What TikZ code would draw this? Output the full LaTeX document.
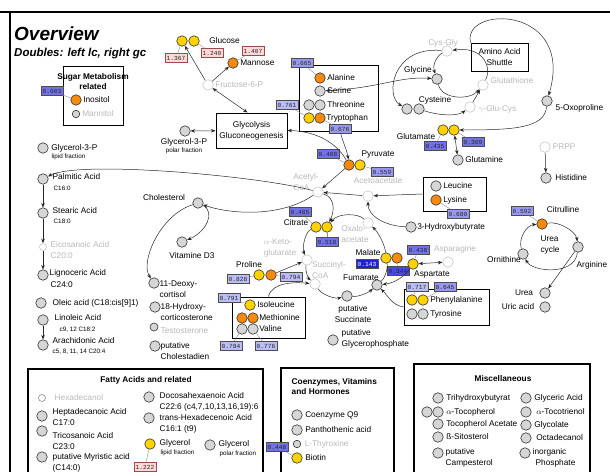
\documentclass[tikz,border=0pt]{standalone}
\usepackage{fontspec}
\setmainfont{Liberation Sans}
\newfontfamily\valfont{Liberation Mono}
\usetikzlibrary{arrows.meta, positioning}
\definecolor{MetYellow}{HTML}{FFD200}
\definecolor{MetOrange}{HTML}{F7890C}
\definecolor{MetGray}{HTML}{D6D6D6}
\definecolor{ValLight}{HTML}{BCBCF6}
\definecolor{ValMid}{HTML}{9898F0}
\definecolor{ValDeep}{HTML}{7272E6}
\definecolor{ValDark}{HTML}{4A4AE2}
\definecolor{ValDarkest}{HTML}{2020D6}
\definecolor{ValPink}{HTML}{FFD8D8}
\definecolor{PinkEdge}{HTML}{A04848}

\begin{document}
\begin{tikzpicture}[x=1pt, y=-1pt,
    met/.style={circle, draw=black!80, line width=0.6pt, minimum size=10.5pt, inner sep=0pt},
    mgray/.style={met, fill=MetGray},
    myel/.style={met, fill=MetYellow},
    morg/.style={met, fill=MetOrange},
    mnone/.style={met, draw=black!22, fill=white},
    lbl/.style={anchor=west, inner sep=0.5pt, font=\fontsize{8.3}{9.5}\selectfont},
    lbltwo/.style={lbl, align=left, font=\fontsize{8.3}{11}\selectfont},
    clbl/.style={inner sep=0.5pt, font=\fontsize{8.3}{10.5}\selectfont, align=left},
    sublbl/.style={anchor=west, inner sep=0.5pt, font=\fontsize{6.3}{7}\selectfont},
    faint/.style={text=black!28},
    grp/.style={draw, line width=1pt, inner sep=0pt},
    grphead/.style={font=\bfseries\fontsize{8.3}{10}\selectfont, inner sep=0.5pt},
    valbox/.style={draw=black!70, line width=0.4pt, inner xsep=1.8pt, inner ysep=0.5pt, minimum height=9pt, text=black!85, font=\valfont\fontsize{6.2}{6.2}\selectfont},
    valL/.style={valbox, fill=ValLight},
    valM/.style={valbox, fill=ValMid},
    valD/.style={valbox, fill=ValDeep},
    valX/.style={valbox, fill=ValDark},
    valK/.style={valbox, fill=ValDarkest, text=white},
    valP/.style={valbox, fill=ValPink, draw=PinkEdge},
    vline/.style={draw=black!45, line width=0.4pt},
    arr/.style={-{Stealth[length=4.5pt, width=3.5pt]}, line width=0.5pt, draw=black!85},
    darr/.style={{Stealth[length=4.5pt, width=3.5pt]}-{Stealth[length=4.5pt, width=3.5pt]}, line width=0.5pt, draw=black!85}
]
\useasboundingbox (0,0) rectangle (610,471);
\clip (0,0) rectangle (610,471);

% frame and title
\draw[line width=1.8pt] (0,12) -- (610,12);
\draw[line width=1.4pt] (10,12) -- (10,480);
\node[anchor=base west, inner sep=0, font=\bfseries\itshape\fontsize{19}{20}\selectfont] (title) at (14,40) {Overview};
\node[anchor=base west, inner sep=0, font=\bfseries\itshape\fontsize{11.5}{12}\selectfont] (subtitle) at (14,56) {Doubles: left lc, right gc};

% group boxes
\node[grp, minimum width=60pt, minimum height=59pt] (sugarbox) at (93,95.5) {};
\node[grp, minimum width=79pt, minimum height=66pt] (aabox) at (338.5,98) {};
\node[grp, minimum width=57pt, minimum height=28pt, align=center, font=\fontsize{8.3}{11}\selectfont] (shut) at (499.5,57) {Amino Acid\\Shuttle};
\node[grp, minimum width=71pt, minimum height=35pt, align=center, font=\fontsize{8.3}{11}\selectfont] (glyc) at (251.5,130.5) {Glycolysis\\Gluconeogenesis};
\node[grp, minimum width=63pt, minimum height=34pt] (leubox) at (454.5,194) {};
\node[grp, minimum width=73pt, minimum height=41pt] (bcaabox) at (268.5,317.5) {};
\node[grp, minimum width=85pt, minimum height=36pt] (phebox) at (446.5,307) {};
\node[grp, line width=1.2pt, minimum width=235pt, minimum height=111pt] (fattybox) at (145.5,424.5) {};
\node[grp, line width=1.2pt, minimum width=113pt, minimum height=112pt] (coenzbox) at (337.5,424) {};
\node[grp, line width=1.2pt, minimum width=176pt, minimum height=116pt] (miscbox) at (502,422) {};

% sugar metabolism
\node[grphead, align=center] (t-sugar) at (93,81.5) {Sugar Metabolism\\related};
\node[morg] (ino) at (76,100) {};
\node[lbl, right=1pt of ino] (t-ino) {Inositol};
\node[mgray, minimum size=7.5pt] (mtol) at (76,114) {};
\node[lbl, faint, right=1.5pt of mtol] (t-mtol) {Mannitol};
\node[valD] (v603) at (52,91) {0.603};
\draw[vline] (v603) -- (ino);

% sugars and glycolysis
\node[myel] (glcA) at (182,41) {};
\node[myel] (glcB) at (194,41) {};
\node[lbl, right=9pt of glcB] (t-glc) {Glucose};
\node[valP] (v1367) at (176,58) {1.367};
\node[valP] (v1240) at (212,53) {1.240};
\node[valP] (v1407) at (253,51) {1.407};
\node[morg] (man) at (233,63) {};
\node[lbl, right=1pt of man] (t-man) {Mannose};
\node[mnone] (f6p) at (208,85) {};
\node[lbl, faint, right=1pt of f6p] (t-f6p) {Fructose-6-P};
\node[mgray] (g3pp) at (185,131) {};
\node[clbl] (t-g3pp) at (184,142) {Glycerol-3-P};
\node[sublbl, anchor=center] (s-g3pp) at (184,151) {polar fraction};
\draw[vline] (v1367) -- (glcA);
\draw[vline] (v1240) -- (glcB);
\draw[vline] (v1407) -- (man);
\draw[arr] (f6p) -- (glcA);
\draw[arr] (f6p) -- (man);
\draw[darr] (f6p) -- ([xshift=-4pt]glyc.north);
\draw[darr] (g3pp) -- (glyc);

% amino acids box
\node[morg] (ala) at (320,78) {};
\node[lbl, right=1pt of ala] (t-ala) {Alanine};
\node[mgray] (ser) at (320,91) {};
\node[lbl, right=1pt of ser] (t-ser) {Serine};
\node[mgray] (thrA) at (309,105) {};
\node[mgray] (thrB) at (320,105) {};
\node[lbl, right=1pt of thrB] (t-thr) {Threonine};
\node[myel] (trpA) at (309,118) {};
\node[morg] (trpB) at (320,118) {};
\node[lbl, right=0pt of trpB] (t-trp) {Tryptophan};
\node[valM] (v665) at (302,63) {0.665};
\node[valL] (v761) at (287,105) {0.761};
\node[valM] (v676) at (340,129) {0.676};
\draw[vline] (v665) -- (ala);
\draw[vline] (v761) -- (trpA);
\draw[vline] (v676) -- (trpB);

% glutathione cycle
\node[mnone] (cysgly) at (447,51) {};
\node[clbl, faint] (t-cysgly) at (443,43) {Cys-Gly};
\node[mgray] (gly) at (437,79) {};
\node[clbl] (t-gly) at (418,70) {Glycine};
\node[mnone] (gsh) at (483,85) {};
\node[lbl, faint] (t-gsh) at (490,81) {Glutathione};
\node[mgray] (cysA) at (407,109) {};
\node[mgray] (cysB) at (419,109) {};
\node[clbl] (t-cys) at (435,100) {Cysteine};
\node[mnone] (ggc) at (470,107) {};
\node[lbl, faint] (t-ggc) at (478,109) {$\gamma$-Glu-Cys};
\node[mgray] (oxo) at (547,101) {};
\node[lbl] (t-oxo) at (555,108) {5-Oxoproline};
\node[myel] (gluA) at (443,130) {};
\node[myel] (gluB) at (454,130) {};
\node[clbl] (t-glu) at (416,137) {Glutamate};
\node[valD] (v435) at (435,146) {0.435};
\node[valD] (v369) at (473,142) {0.369};
\node[mgray] (gln) at (458,160) {};
\node[lbl, right=1pt of gln] (t-gln) {Glutamine};
\draw[vline] (v435) -- (gluA);
\draw[vline] (v369) -- (gluB);
\draw[arr] (cysgly) .. controls (438,55) and (432,64) .. (gly);
\draw[arr] (gly) .. controls (442,100) and (470,100) .. (gsh);
\draw[arr] (gsh) .. controls (492,68) and (484,46) .. (cysgly);
\draw[arr] (cysgly) .. controls (392,46) and (385,96) .. (cysA);
\draw[arr] (cysB) .. controls (440,116) and (458,116) .. (ggc);
\draw[arr] (ggc) -- (gsh);
\draw[arr] (shut.north west) .. controls (462,5) and (575,5) .. (oxo);
\draw[arr] (oxo) .. controls (545,128) and (515,130) .. (gluB);
\draw[darr] (gluB) -- (gln);
\draw[darr] (ser) .. controls (380,88) and (400,76) .. (gly);

% histidine
\node[mnone] (prpp) at (545,147) {};
\node[lbl, faint, right=1.5pt of prpp] (t-prpp) {PRPP};
\node[mgray] (his) at (546,178) {};
\node[lbl, right=3pt of his] (t-his) {Histidine};
\draw[arr] (prpp) -- (his);

% pyruvate and acetyl-CoA
\node[morg] (pyrA) at (349,165) {};
\node[myel] (pyrB) at (360,165) {};
\node[clbl] (t-pyr) at (378,155) {Pyruvate};
\node[valD] (v408) at (328,154) {0.408};
\node[valM] (v559) at (382,172) {0.559};
\draw[vline] (v408) -- (pyrA);
\draw[vline] (v559) -- (pyrB);
\node[mnone] (acoa) at (318,192) {};
\node[clbl, faint] (t-acoa) at (306,182) {Acetyl-\\CoA};
\node[mnone] (acac) at (368,196) {};
\node[clbl, faint] (t-acac) at (378,181) {Acetoacetate};
\node[mgray] (leu) at (436,186) {};
\node[lbl, right=1pt of leu] (t-leu) {Leucine};
\node[morg] (lys) at (436,200) {};
\node[lbl, right=1pt of lys] (t-lys) {Lysine};
\node[valM] (v680) at (458,214) {0.680};
\draw[vline] (v680) -- (lys);
\node[mgray] (hb) at (411,227) {};
\node[lbl, right=0pt of hb] (t-hb) {3-Hydroxybutyrate};
\draw[arr] (pyrA) .. controls (335,140) and (312,131) .. (glyc.east);
\draw[arr] (v676) .. controls (342,140) and (347,150) .. (pyrA);
\draw[arr] (pyrA) -- (acoa);
\draw[arr] (acac) -- (acoa);
\draw[arr] (leubox.west) -- (acac);
\draw[arr] (hb) .. controls (385,226) and (368,216) .. (acac);

% citrate cycle
\node[myel] (citA) at (316,227) {};
\node[myel] (citB) at (327,227) {};
\node[clbl] (t-cit) at (296,223) {Citrate};
\node[valD] (v485) at (300,212) {0.485};
\node[valD] (v518) at (327,242) {0.518};
\draw[vline] (v485) -- (citA);
\draw[vline] (v518) -- (citB);
\node[mnone] (oaa) at (368,223) {};
\node[clbl, faint] (t-oaa) at (355,234) {Oxalo-\\acetate};
\node[myel] (malA) at (386,258) {};
\node[morg] (malB) at (397,258) {};
\node[clbl] (t-mal) at (368,253) {Malate};
\node[valK] (v143) at (367,264) {0.143};
\node[valX] (v344) at (398,271) {0.344};
\draw[vline] (v143) -- (malA);
\draw[vline] (v344) -- (malB);
\node[mgray] (fum) at (377,285) {};
\node[clbl] (t-fum) at (361,278) {Fumarate};
\node[mnone] (succoa) at (315,284) {};
\node[clbl, faint] (t-succoa) at (329,270) {Succinyl-\\CoA};
\node[mnone] (akg) at (307,260) {};
\node[clbl, faint] (t-akg) at (280,248) {$\alpha$-Keto-\\glutarate};
\node[mgray] (succ) at (347,296) {};
\node[clbl, align=center] (t-succ) at (353,314) {putative\\Succinate};
\node[mgray] (gphos) at (333,340) {};
\node[lbltwo] (t-gphos) at (341,339) {putative\\Glycerophosphate};
\draw[arr] (acoa) .. controls (336,198) and (334,212) .. (citB);
\draw[arr] (citA) .. controls (305,232) and (302,248) .. (akg);
\draw[arr] (akg) .. controls (305,270) and (308,278) .. (succoa);
\draw[arr] (succoa) .. controls (322,295) and (335,299) .. (succ);
\draw[arr] (succ) .. controls (358,297) and (368,293) .. (fum);
\draw (fum) .. controls (385,278) and (388,268) .. (malA);
\draw[arr] (malA) .. controls (385,245) and (378,232) .. (oaa);
\draw[arr] (oaa) .. controls (358,213) and (338,213) .. (citB);

% proline and branched chain box
\node[myel] (proA) at (259,275) {};
\node[morg] (proB) at (271,275) {};
\node[clbl] (t-pro) at (249,265) {Proline};
\node[valL] (v828) at (238,279) {0.828};
\node[valL] (v794) at (291,277) {0.794};
\draw[vline] (v828) -- (proA);
\draw[vline] (v794) -- (proB);
\draw[arr] (proB) -- (akg);
\node[myel] (ile) at (250,305) {};
\node[lbl, right=1pt of ile] (t-ile) {Isoleucine};
\node[morg] (metA) at (242,318) {};
\node[morg] (metB) at (253,318) {};
\node[lbl, right=0pt of metB] (t-met) {Methionine};
\node[mgray] (valA) at (242,329) {};
\node[mgray] (valB) at (253,329) {};
\node[lbl, right=0pt of valB] (t-val) {Valine};
\node[valL] (v791) at (229,298) {0.791};
\node[valL] (v784) at (231,346) {0.784};
\node[valL] (v776) at (266,346) {0.776};
\draw[vline] (v791) -- (ile);
\draw[vline] (v784) -- (valA);
\draw[vline] (v776) -- (valB);
\draw[arr] (bcaabox.north) .. controls (272,282) and (295,282) .. (succoa);

% aspartate and aromatic box
\node[myel] (asp) at (413,264) {};
\node[clbl] (t-asp) at (432,275) {Aspartate};
\node[mnone] (asn) at (448,262) {};
\node[clbl, faint] (t-asn) at (455,249) {Asparagine};
\node[valD] (v438) at (418,250) {0.438};
\draw[vline] (v438) -- (asp);
\draw[darr] (asp) -- (asn);
\draw[arr] (asp) .. controls (405,276) and (395,283) .. (fum);
\node[myel] (pheA) at (412,300) {};
\node[myel] (pheB) at (423,300) {};
\node[lbl, right=1pt of pheB] (t-phe) {Phenylalanine};
\node[mgray] (tyrA) at (412,314) {};
\node[mgray] (tyrB) at (423,314) {};
\node[lbl, right=1pt of tyrB] (t-tyr) {Tyrosine};
\node[valL] (v717) at (417,287) {0.717};
\node[valM] (v645) at (445,287) {0.645};
\draw[vline] (v717) -- (pheA);
\draw[vline] (v645) -- (pheB);
\draw[arr] (phebox.west) .. controls (392,305) and (388,296) .. (fum);

% urea cycle
\node[morg] (cit) at (542,224) {};
\node[clbl] (t-citr) at (563,210) {Citrulline};
\node[valM] (v592) at (522,211) {0.592};
\draw[vline] (v592) -- (cit);
\node[mgray] (arg) at (578,247) {};
\node[lbl] (t-arg) at (576,265) {Arginine};
\node[mgray] (orn) at (523,254) {};
\node[clbl] (t-orn) at (504,260) {Ornithine};
\node[clbl] (t-urcyc) at (550,245) {Urea\\cycle};
\node[mgray] (urea) at (545,293) {};
\node[clbl] (t-urea) at (524,293) {Urea};
\node[mgray] (uric) at (545,307) {};
\node[clbl] (t-uric) at (518,307) {Uric acid};
\draw[arr] (orn) .. controls (518,238) and (527,225) .. (cit);
\draw[arr] (cit) .. controls (560,221) and (576,232) .. (arg);
\draw[arr] (arg) .. controls (575,276) and (532,272) .. (orn);
\draw[arr] (arg) -- (urea);

% fatty acids, left column
\node[mgray] (g3pl) at (43,148) {};
\node[lbl, right=2pt of g3pl] (t-g3pl) {Glycerol-3-P};
\node[sublbl] (s-g3pl) at (51,157) {lipid fraction};
\node[mgray] (palm) at (43,179) {};
\node[lbl] (t-palm) at (52,177) {Palmitic Acid};
\node[sublbl] (s-palm) at (53,188) {C16:0};
\node[mgray] (stea) at (43,213) {};
\node[lbl] (t-stea) at (52,211) {Stearic Acid};
\node[sublbl] (s-stea) at (53,221) {C18:0};
\node[mnone, minimum size=7pt] (eico) at (43,247) {};
\node[lbl, faint] (t-eico) at (50,245) {Eicosanoic Acid};
\node[lbl, faint] (s-eico) at (50,256) {C20:0};
\node[mgray] (ligno) at (43,275) {};
\node[lbl] (t-ligno) at (49,273) {Lignoceric Acid};
\node[lbl] (s-ligno) at (50,285) {C24:0};
\node[mgray] (olei) at (41,303) {};
\node[lbl] (t-olei) at (52,303) {Oleic acid (C18:cis[9]1)};
\node[mgray] (linol) at (43,320) {};
\node[lbl] (t-linol) at (54,318) {Linoleic Acid};
\node[sublbl] (s-linol) at (59,330) {c9, 12 C18:2};
\node[mgray] (arach) at (43,345) {};
\node[lbl] (t-arach) at (52,341) {Arachidonic Acid};
\node[sublbl] (s-arach) at (52,352) {c5, 8, 11, 14 C20:4};
\draw[arr] (palm) -- (stea);
\draw[arr] (stea) -- (eico);
\draw[arr] (eico) -- (ligno);
\draw[arr] (linol) -- (arach);
\draw[arr] (acoa) .. controls (260,176) and (80,160) .. (palm);

% sterols
\node[mgray] (chol) at (198,203) {};
\node[clbl] (t-chol) at (164,198) {Cholesterol};
\node[mgray] (vitd) at (182,242) {};
\node[clbl] (t-vitd) at (192,256) {Vitamine D3};
\node[mgray] (deoxy) at (154,283) {};
\node[lbltwo] (t-deoxy) at (159,289) {11-Deoxy-\\cortisol};
\node[mgray] (hydroxy) at (155,307) {};
\node[lbltwo] (t-hydroxy) at (160,312.5) {18-Hydroxy-\\corticosterone};
\node[mgray, minimum size=8pt] (testo) at (154,327) {};
\node[lbl, faint] (t-testo) at (160,331) {Testosterone};
\node[mgray] (chold) at (155,346) {};
\node[lbltwo] (t-chold) at (160,351) {putative\\Cholestadien};
\draw[arr] (acoa) .. controls (280,218) and (230,214) .. (chol);
\draw[arr] (chol) .. controls (216,212) and (206,232) .. (vitd);
\draw[arr] (chol) .. controls (160,215) and (140,262) .. (deoxy);

% fatty acids and related
\node[grphead] (t-fatty) at (146,380) {Fatty Acids and related};
\node[mnone, minimum size=7pt, draw=black!45] (hexol) at (42,398) {};
\node[lbl, faint] (t-hexol) at (54,398) {Hexadecanol};
\node[mgray] (hepta) at (42,416) {};
\node[lbltwo] (t-hepta) at (52,417.5) {Heptadecanoic Acid\\C17:0};
\node[mgray] (trico) at (42,431) {};
\node[lbltwo] (t-trico) at (52,441) {Tricosanoic Acid\\C23:0};
\node[mgray] (myri) at (42,457) {};
\node[lbltwo] (t-myri) at (52,463) {putative Myristic acid\\(C14:0)};
\node[mgray] (docosa) at (149,397) {};
\node[lbltwo] (t-docosa) at (159,402) {Docosahexaenoic Acid\\C22:6 (c4,7,10,13,16,19):6};
\node[mgray] (transhex) at (149,418) {};
\node[lbltwo] (t-transhex) at (159,423.5) {trans-Hexadecenoic Acid\\C16:1 (t9)};
\node[myel] (glyl) at (150,444) {};
\node[lbl] (t-glyl) at (159,443) {Glycerol};
\node[sublbl] (s-glyl) at (160,453) {lipid fraction};
\node[valP] (v1222) at (145,467) {1.222};
\draw[vline] (v1222) -- (glyl);
\node[mgray] (glyp) at (210,445) {};
\node[lbl] (t-glyp) at (218,444) {Glycerol};
\node[sublbl] (s-glyp) at (219,454) {polar fraction};

% coenzymes, vitamins and hormones
\node[grphead, align=left, anchor=north west] (t-coenz) at (291,378) {Coenzymes, Vitamins\\and Hormones};
\node[mgray] (coq) at (297,415) {};
\node[lbl, right=2pt of coq] (t-coq) {Coenzyme Q9};
\node[mgray] (panto) at (297,430) {};
\node[lbl, right=2pt of panto] (t-panto) {Panthothenic acid};
\node[mgray, minimum size=7.5pt] (thyr) at (297,444) {};
\node[lbl, faint, right=3pt of thyr] (t-thyr) {L-Thyroxine};
\node[myel] (biot) at (297,458) {};
\node[lbl, right=2pt of biot] (t-biot) {Biotin};
\node[valD] (v448) at (277,447) {0.448};
\draw[vline] (v448) -- (biot);

% miscellaneous
\node[grphead] (t-misc) at (503,379) {Miscellaneous};
\node[mgray] (trihy) at (438,398) {};
\node[lbl, right=2pt of trihy] (t-trihy) {Trihydroxybutyrat};
\node[mgray] (tocA) at (427,412) {};
\node[mgray] (tocB) at (438,412) {};
\node[lbl, right=2pt of tocB] (t-toc) {$\alpha$-Tocopherol};
\node[mgray] (tocac) at (438,424) {};
\node[lbl, right=2pt of tocac] (t-tocac) {Tocopherol Acetate};
\node[mgray] (sito) at (438,437) {};
\node[lbl, right=2pt of sito] (t-sito) {ß-Sitosterol};
\node[mgray] (camp) at (438,453) {};
\node[lbltwo, anchor=north west] (t-camp) at (445,448) {putative\\Campesterol};
\node[mgray] (glyac) at (526,398) {};
\node[lbl, right=2pt of glyac] (t-glyac) {Glyceric Acid};
\node[mgray] (toct) at (526,412) {};
\node[lbl, right=4pt of toct] (t-toct) {$\alpha$-Tocotrienol};
\node[mgray] (glycol) at (526,425) {};
\node[lbl, right=2pt of glycol] (t-glycol) {Glycolate};
\node[mgray] (octa) at (526,438) {};
\node[lbl, right=4pt of octa] (t-octa) {Octadecanol};
\node[mgray] (inorg) at (525,453) {};
\node[lbltwo, anchor=north west] (t-inorg) at (532,448) {inorganic\\\hspace*{3pt}Phosphate};
\end{tikzpicture}
\end{document}
